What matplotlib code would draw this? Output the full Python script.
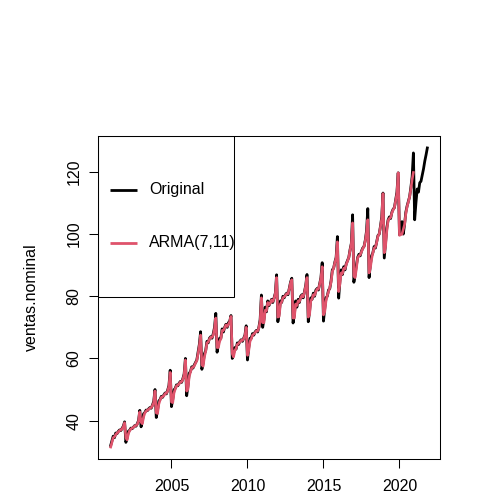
import matplotlib
matplotlib.use("Agg")
import matplotlib.pyplot as plt
import numpy as np
from matplotlib.patches import Rectangle

plt.rcParams['font.family'] = ['Liberation Sans', 'DejaVu Sans']

# ventas nominales, mensual desde 2001-01 hasta 2021-11
start_year = 2001
original = [
    32.0, 33.5, 35.0, 34.5, 36.0, 35.8, 36.5, 37.0, 36.8, 37.5, 38.2, 39.6,
    33.0, 34.5, 36.6, 36.9, 37.6, 37.4, 37.9, 38.4, 38.2, 39.0, 40.0, 43.3,
    38.0, 39.8, 42.2, 42.6, 43.4, 43.2, 43.8, 44.2, 44.0, 45.0, 46.2, 50.0,
    41.0, 43.3, 46.3, 46.8, 47.8, 47.5, 48.3, 48.9, 48.6, 49.8, 51.3, 56.2,
    44.5, 46.8, 49.9, 50.4, 51.5, 51.2, 52.0, 52.6, 52.3, 53.5, 55.0, 60.0,
    48.0, 51.1, 55.2, 55.8, 57.3, 56.9, 57.9, 58.7, 59.5, 62.0, 64.5, 68.6,
    56.5, 58.5, 61.5, 62.5, 65.5, 65.0, 66.5, 67.0, 66.5, 68.0, 70.0, 74.5,
    62.0, 64.5, 66.5, 66.5, 69.5, 68.5, 70.0, 71.0, 70.0, 71.5, 72.0, 73.8,
    60.0, 61.5, 63.5, 63.0, 65.0, 64.5, 65.5, 66.0, 65.5, 66.5, 67.5, 70.5,
    59.5, 63.5, 66.5, 66.5, 68.0, 67.5, 68.5, 69.0, 68.5, 70.0, 72.5, 80.4,
    70.0, 72.5, 76.5, 75.0, 78.5, 77.0, 78.0, 79.0, 78.0, 79.5, 81.0, 86.9,
    71.8, 74.5, 78.5, 78.0, 80.0, 79.5, 80.5, 81.0, 80.5, 82.5, 84.5, 85.8,
    71.4, 74.0, 78.5, 76.5, 79.0, 78.0, 80.0, 80.5, 79.5, 81.5, 83.5, 87.0,
    71.8, 75.0, 79.5, 79.0, 81.0, 80.0, 82.0, 82.5, 82.0, 84.0, 86.0, 90.8,
    72.0, 76.0, 79.5, 80.0, 82.0, 82.5, 85.0, 88.5, 89.0, 91.0, 92.5, 99.2,
    79.4, 85.0, 88.5, 87.0, 89.5, 88.5, 90.5, 91.5, 92.5, 95.0, 97.0, 106.2,
    84.5, 87.0, 90.0, 92.5, 93.5, 93.0, 94.5, 95.5, 96.0, 98.0, 101.0, 108.2,
    86.0, 90.0, 93.0, 94.0, 96.0, 95.5, 97.5, 99.5, 100.0, 102.5, 105.5, 113.2,
    92.3, 97.0, 102.0, 104.5, 105.5, 105.0, 107.0, 108.0, 108.5, 111.0, 113.5, 119.7,
    99.8, 100.5, 104.0, 100.0, 103.0, 107.0, 109.0, 110.5, 112.0, 115.0, 118.5, 126.1,
    104.6, 110.0, 114.5, 113.5, 116.5, 117.0, 119.0, 121.0, 123.5, 125.5, 127.7,
]

# valores ajustados ARMA(7,11), 2001-01 a 2020-12
arma = [
    31.5, 33.0, 34.5, 34.8, 35.5, 36.0, 36.3, 36.8, 37.0, 37.3, 38.0, 39.3,
    34.5, 33.8, 35.8, 36.8, 37.3, 37.6, 37.8, 38.3, 38.4, 38.8, 39.8, 42.8,
    39.5, 39.0, 41.2, 42.5, 43.0, 43.4, 43.6, 44.0, 44.2, 44.8, 45.8, 49.5,
    42.5, 42.3, 45.3, 46.6, 47.5, 47.7, 48.0, 48.7, 48.8, 49.5, 51.0, 55.5,
    46.0, 45.8, 48.9, 50.2, 51.2, 51.4, 51.8, 52.4, 52.5, 53.2, 54.7, 59.5,
    49.5, 50.1, 54.2, 55.6, 57.0, 57.1, 57.6, 58.5, 59.3, 61.5, 64.0, 67.5,
    58.0, 57.5, 60.5, 62.3, 65.0, 65.3, 66.2, 66.8, 66.8, 67.5, 69.5, 73.0,
    63.5, 63.5, 65.5, 66.3, 69.0, 69.0, 69.8, 70.8, 70.3, 71.0, 71.8, 73.5,
    61.5, 60.5, 62.5, 63.2, 64.5, 64.8, 65.3, 65.8, 65.8, 66.3, 67.3, 70.0,
    61.0, 62.5, 65.5, 66.3, 67.5, 67.8, 68.3, 68.8, 68.8, 69.8, 72.0, 79.5,
    71.5, 71.5, 75.5, 75.3, 78.0, 77.3, 77.8, 78.8, 78.3, 79.3, 80.8, 86.0,
    73.3, 73.5, 77.5, 78.2, 79.5, 79.8, 80.3, 80.8, 80.8, 82.3, 84.3, 85.3,
    73.0, 73.0, 77.5, 77.0, 78.5, 78.3, 79.5, 80.3, 79.8, 81.3, 83.3, 86.0,
    73.3, 74.0, 78.5, 79.2, 80.5, 80.3, 81.5, 82.3, 82.3, 83.8, 85.8, 89.5,
    74.0, 75.0, 78.5, 80.2, 81.5, 82.8, 84.5, 88.0, 89.0, 90.8, 92.3, 97.5,
    81.5, 84.0, 87.5, 87.3, 89.0, 88.8, 90.3, 91.3, 92.5, 94.8, 96.8, 103.6,
    86.5, 86.0, 89.0, 92.3, 93.0, 93.3, 94.3, 95.3, 96.0, 97.8, 100.5, 104.6,
    87.5, 89.0, 92.0, 94.0, 95.5, 95.8, 97.3, 99.3, 100.0, 102.3, 105.0, 113.0,
    94.0, 96.0, 101.0, 104.3, 105.0, 105.3, 106.8, 107.8, 108.5, 110.8, 113.0, 119.7,
    99.6, 99.8, 100.0, 101.5, 103.0, 106.5, 108.8, 110.3, 112.0, 114.5, 117.5, 119.8,
]

x_ticks = [2005, 2010, 2015, 2020]
y_ticks = [40, 60, 80, 100, 120]
labels = ["Original", "ARMA(7,11)"]
colors = ["black", "#DF536B"]

t_orig = start_year + np.arange(len(original)) / 12
t_arma = start_year + np.arange(len(arma)) / 12

fig = plt.figure(figsize=(5, 5), dpi=100)
ax = fig.add_axes([98 / 500, 1 - 459 / 500, 342 / 500, 323 / 500])

ax.plot(t_orig, original, color=colors[0], lw=2.0)
ax.plot(t_arma, arma, color=colors[1], lw=1.9)

# rango al estilo R (4 % a cada lado)
x0, x1 = t_orig.min(), t_orig.max()
ymin = min(min(original), min(arma))
ymax = max(max(original), max(arma))
ax.set_xlim(x0 - 0.04 * (x1 - x0), x1 + 0.04 * (x1 - x0))
ax.set_ylim(ymin - 0.04 * (ymax - ymin), ymax + 0.04 * (ymax - ymin))

ax.set_xticks(x_ticks)
ax.set_yticks(y_ticks)
ax.set_yticklabels([str(v) for v in y_ticks], rotation=90, va="center")
ax.tick_params(axis="both", length=6.5, width=0.75, labelsize=11.5, color="black")
ax.tick_params(axis="x", pad=8)
ax.tick_params(axis="y", pad=5.5)
for s in ax.spines.values():
    s.set_linewidth(0.75)

fig.text(31 / 500, 1 - 297.5 / 500, "ventas.nominal", rotation=90,
         ha="center", va="center", fontsize=11.5)

# leyenda como la de R
ax.add_patch(Rectangle((0, 0.5015), 0.3977, 0.4985, transform=ax.transAxes,
                       facecolor="none", edgecolor="black", lw=0.75, zorder=5))
for yy, lab, col in zip([0.833, 0.670], labels, colors):
    ax.plot([0.035, 0.113], [yy, yy], transform=ax.transAxes, color=col, lw=2.0,
            solid_capstyle="butt", zorder=6)
    ax.text(0.150, yy, lab, transform=ax.transAxes, ha="left", va="center",
            fontsize=11.5, zorder=6)

fig.savefig("out.png", dpi=100)
